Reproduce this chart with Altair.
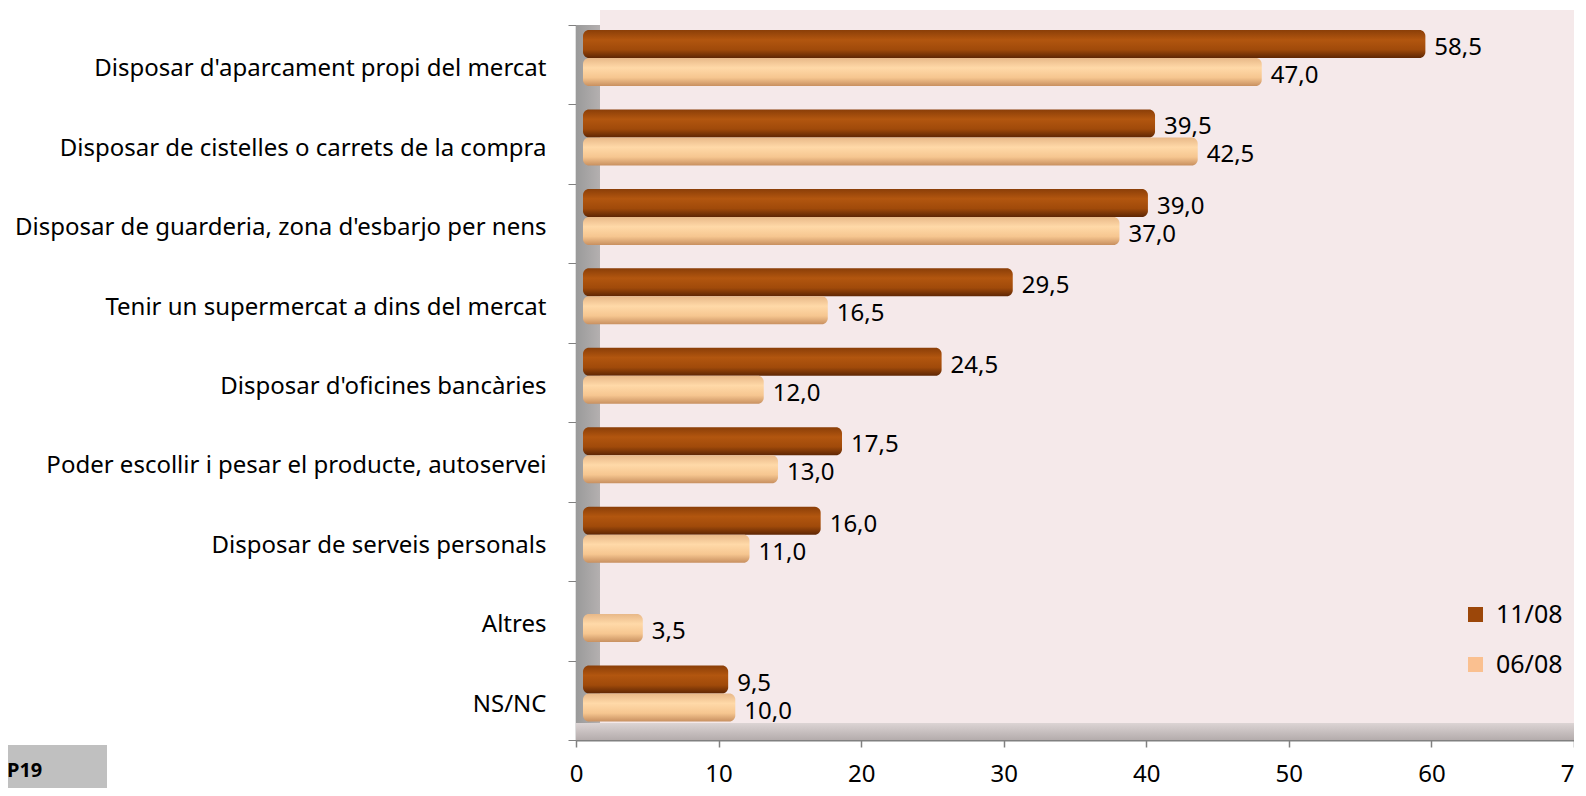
import altair as alt
import pandas as pd

categories = [
    "Disposar d'aparcament propi del mercat",
    "Disposar de cistelles o carrets de la compra",
    "Disposar de guarderia, zona d'esbarjo per nens",
    "Tenir un supermercat a dins del mercat",
    "Disposar d'oficines bancàries",
    "Poder escollir i pesar el producte, autoservei",
    "Disposar de serveis personals",
    "Altres",
    "NS/NC",
]
series = ["11/08", "06/08"]
v_1108 = [58.5, 39.5, 39.0, 29.5, 24.5, 17.5, 16.0, None, 9.5]
v_0608 = [47.0, 42.5, 37.0, 16.5, 12.0, 13.0, 11.0, 3.5, 10.0]
x_ticks = [0, 10, 20, 30, 40, 50, 60, 70]

rows = []
for c, a, b in zip(categories, v_1108, v_0608):
    rows.append({"cat": c, "serie": "11/08", "value": a})
    rows.append({"cat": c, "serie": "06/08", "value": b})
df = pd.DataFrame(rows)
df = df[df["value"].notna()].reset_index(drop=True)

W = 998
H = 715
FONT = "Noto Sans"
DARK = "#9C4709"
LIGHT = "#FAC090"

# axis scale (front edge of the 3D floor)
x_axis_enc = alt.X("value:Q", scale=alt.Scale(domain=[0, 70], nice=False),
                   axis=alt.Axis(values=x_ticks, title=None, grid=False, domainColor="#808080",
                                 domainWidth=2, tickColor="#808080", tickWidth=1.5, tickSize=7,
                                 labelFont=FONT, labelFontSize=24, labelColor="#000000",
                                 labelPadding=15, labelFlush=False))
# bar scale (back wall, slightly shifted by the 3D depth)
x_bar_enc = alt.X("value:Q", stack=None,
                  scale=alt.Scale(domain=[0, 70], nice=False, range=[17, 1013]), axis=None)
y_enc = alt.Y("cat:N", sort=categories,
              scale=alt.Scale(paddingInner=0, paddingOuter=0),
              axis=alt.Axis(title=None, tickBand="extent", domainColor="#808080", domainWidth=1.5,
                            tickColor="#808080", tickSize=8, labelFont=FONT, labelFontSize=24,
                            labelColor="#000000", labelPadding=22, labelLimit=700,
                            labelOffset=4))
yoff = alt.YOffset("serie:N", sort=series,
                   scale=alt.Scale(domain=series, range=[5, 61], paddingInner=0, paddingOuter=0))

one = pd.DataFrame({"d": [0]})

back_wall = alt.Chart(one).mark_rect(color="#F5E9EA").encode(
    x=alt.value(24), x2=alt.value(W), y=alt.value(-15), y2=alt.value(700))
left_wall = alt.Chart(one).mark_rect(
    color=alt.LinearGradient(gradient="linear", x1=0, y1=0, x2=1, y2=0,
                             stops=[alt.GradientStop(offset=0, color="#9A9A9A"),
                                    alt.GradientStop(offset=1, color="#B4B0B0")])
).encode(x=alt.value(0), x2=alt.value(24), y=alt.value(0), y2=alt.value(H))
floor = alt.Chart(one).mark_rect(
    color=alt.LinearGradient(gradient="linear", x1=0, y1=0, x2=0, y2=1,
                             stops=[alt.GradientStop(offset=0, color="#DCD4D4"),
                                    alt.GradientStop(offset=1, color="#B4ACAC")])
).encode(x=alt.value(0), x2=alt.value(W), y=alt.value(698), y2=alt.value(H))

dark_grad = alt.LinearGradient(gradient="linear", x1=0, y1=0, x2=0, y2=1, stops=[
    alt.GradientStop(offset=0, color="#8A3E08"),
    alt.GradientStop(offset=0.35, color="#B2560F"),
    alt.GradientStop(offset=0.7, color="#A04A0A"),
    alt.GradientStop(offset=1, color="#5E2604")])
light_grad = alt.LinearGradient(gradient="linear", x1=0, y1=0, x2=0, y2=1, stops=[
    alt.GradientStop(offset=0, color="#E8B888"),
    alt.GradientStop(offset=0.35, color="#FFD9A8"),
    alt.GradientStop(offset=0.7, color="#F6C690"),
    alt.GradientStop(offset=1, color="#C89060")])

base = alt.Chart(df)
bars_dark = base.transform_filter(alt.datum.serie == "11/08").mark_bar(
    fill=dark_grad, cornerRadiusEnd=6).encode(x=x_bar_enc, x2=alt.value(7), y=y_enc, yOffset=yoff)
bars_light = base.transform_filter(alt.datum.serie == "06/08").mark_bar(
    fill=light_grad, cornerRadiusEnd=6).encode(x=x_bar_enc, x2=alt.value(7), y=y_enc, yOffset=yoff)

labels = base.transform_calculate(
    lab="replace(format(datum.value, '.1f'), '.', ',')"
).mark_text(align="left", baseline="middle", dx=9, dy=4, font=FONT, fontSize=24,
            color="#000000").encode(x=x_bar_enc, y=y_enc, yOffset=yoff, text="lab:N")

legend_layer = base.mark_square(size=200, opacity=0).encode(
    x=x_axis_enc, y=y_enc,
    color=alt.Color("serie:N", sort=series,
                    scale=alt.Scale(domain=series, range=[DARK, LIGHT]),
                    legend=alt.Legend(title=None, orient="none", legendX=887, legendY=577,
                                      symbolType="square", symbolSize=225, symbolOpacity=1,
                                      symbolStrokeWidth=0, labelFont=FONT, labelFontSize=25,
                                      labelColor="#000000", rowPadding=24, labelOffset=8,
                                      padding=0)))

p_box = alt.Chart(one).mark_rect(color="#C0C0C0").encode(
    x=alt.value(-570), x2=alt.value(-469), y=alt.value(720), y2=alt.value(780))
p_text = alt.Chart(one).mark_text(align="left", baseline="middle", font=FONT, fontSize=20,
                                  fontWeight="bold", color="#000000", text="P19").encode(
    x=alt.value(-569), y=alt.value(746))

chart = alt.layer(back_wall, left_wall, floor, bars_dark, bars_light, labels, legend_layer,
                  p_box, p_text).resolve_scale(x="independent").properties(
    width=W, height=H,
    autosize=alt.AutoSizeParams(type="none"),
    padding={"left": 568, "top": 17, "right": 0, "bottom": 48},
).configure_view(stroke=None).configure(background="#FFFFFF")

chart.save("out.html", embed_options={"renderer": "svg", "actions": False})
